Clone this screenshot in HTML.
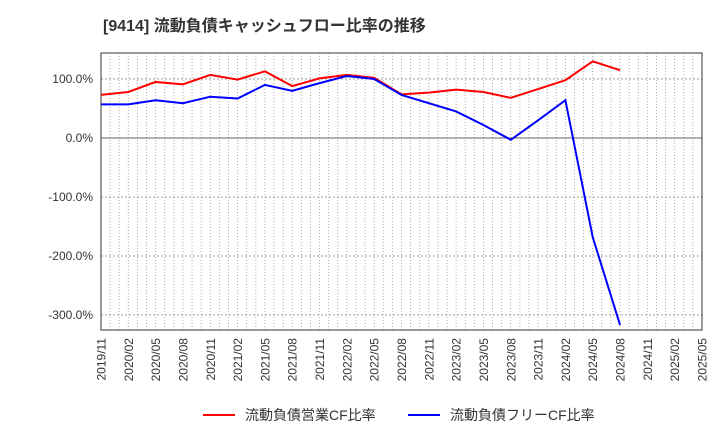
<!DOCTYPE html>
<html><head><meta charset="utf-8"><style>
body{margin:0;background:#fff;}
svg text{font-family:"Liberation Sans","Noto Sans CJK JP",sans-serif;}
</style></head><body>
<svg id="c" width="720" height="440" xmlns="http://www.w3.org/2000/svg">
<text x="103" y="31" font-size="16" font-weight="bold" fill="#333">[9414]  流動負債キャッシュフロー比率の推移</text>
<g id="grid"></g>
<g id="axes"></g>
<g id="series"></g>
<g>
<line x1="203" y1="415" x2="235" y2="415" stroke="#f00" stroke-width="2"/>
<text x="245" y="420" font-size="14" fill="#333">流動負債営業CF比率</text>
<line x1="408" y1="415" x2="440" y2="415" stroke="#00f" stroke-width="2"/>
<text x="450" y="420" font-size="14" fill="#333">流動負債フリーCF比率</text>
</g>
</svg>
<script>
const xLabels=["2019/11","2020/02","2020/05","2020/08","2020/11","2021/02","2021/05","2021/08","2021/11","2022/02","2022/05","2022/08","2022/11","2023/02","2023/05","2023/08","2023/11","2024/02","2024/05","2024/08","2024/11","2025/02","2025/05"];
const yTicks=[100,0,-100,-200,-300];
const opCF=[73,78,95,91,107,99,113,88,101,107,102,74,77,82,78,68,83,98,130,115];
const freeCF=[57,57,64,59,70,67,90,80,93,105,100,73,59,45,22,-3,30,64,-168,-317];
const L=101,R=702,T=53,B=330;
const NS="http://www.w3.org/2000/svg";
const xq=i=>L+i*(R-L)/22;
const xm=m=>L+m*(R-L)/66;
const y=v=>138-v*0.59;
function mk(tag,attrs,parent){const e=document.createElementNS(NS,tag);for(const k in attrs)e.setAttribute(k,attrs[k]);parent.appendChild(e);return e;}
const g=document.getElementById('grid'),ax=document.getElementById('axes'),s=document.getElementById('series');
for(let m=1;m<66;m++){const ln=mk('line',{x1:xm(m),x2:xm(m),y1:T,y2:B,stroke:'#aaa','stroke-dasharray':'1,2','stroke-width':1},g);

}
yTicks.forEach(v=>{const ln=mk('line',{x1:L,x2:R,y1:y(v),y2:y(v),stroke:v===0?'#666':'#999','stroke-dasharray':v===0?'none':'2,2','stroke-width':1},g);


const t=mk('text',{x:L-8,y:y(v)+4,'text-anchor':'end','font-size':12,fill:'#333'},ax);t.textContent=v.toFixed(1)+'%';

});
const fr=mk('rect',{x:L,y:T,width:R-L,height:B-T,fill:'none',stroke:'#333','stroke-width':1},ax);


xLabels.forEach((l,i)=>{const t=mk('text',{x:0,y:0,'text-anchor':'end','font-size':12,fill:'#333',transform:`translate(${xq(i)+4.5},${B+8}) rotate(-90)`},ax);t.textContent=l;

});
function line(data,color,name){const p=mk('polyline',{points:data.map((v,i)=>xq(i)+','+y(v)).join(' '),fill:'none',stroke:color,'stroke-width':2},s);

}
line(opCF,'#f00','operating-cf-line');
line(freeCF,'#00f','free-cf-line');
</script>
</body></html>
